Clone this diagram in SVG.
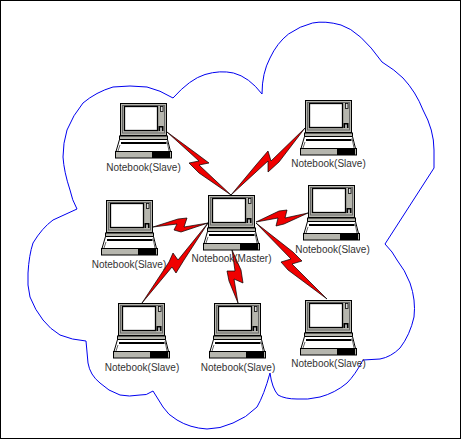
<svg xmlns="http://www.w3.org/2000/svg" xmlns:xlink="http://www.w3.org/1999/xlink" width="461" height="439" viewBox="0 0 461 439">
<style>
text{font-family:"Liberation Sans",Arial,sans-serif;font-size:10px;fill:#333;text-anchor:middle}
.bolt{fill:#f00000;stroke:#000;stroke-width:0.7;stroke-linejoin:miter}
.cloud{fill:none;stroke:#0000f0;stroke-width:1}
.g{fill:#b6b6ae;stroke:#000;stroke-width:1}
.w{fill:#fff;stroke:#000;stroke-width:1}
.k{fill:#000}
</style>
<defs>
<g id="laptop">
<rect class="g" x="0.5" y="0.5" width="46" height="32" stroke-width="1.4"/>
<rect class="g" x="2.5" y="2.5" width="42" height="27.5" style="stroke:#666"/>
<rect class="w" x="4.5" y="3.5" width="33" height="24" style="stroke-width:1.3"/>
<rect x="40.5" y="3.5" width="2.5" height="5" fill="#ddd" stroke="#000" stroke-width="0.8"/>
<rect class="k" x="38.5" y="23" width="5" height="5"/>
<rect x="40" y="24.5" width="2" height="3.5" fill="#aaa"/>
<rect class="g" x="-0.5" y="33" width="48" height="3.5"/>
<path class="w" d="M-0.5,36.5H47.5L50.5,48.5H-4Z"/>
<path d="M0,42L-2,48M47,38L49,48" stroke="#666" fill="none"/>
<rect class="k" x="1" y="39" width="45.500" height="2"/>
<rect class="g" x="-4.500" y="48.500" width="56" height="6.500"/>
<rect class="k" x="32" y="49" width="18" height="6"/>
</g>
</defs>
<rect x="0.500" y="0.500" width="460" height="438" fill="#fff" stroke="#000"/>
<path class="cloud" d="M173,98Q190,79 205,74.500Q220,70 233.500,73Q249,77 262,94Q262,73 270,58Q277,43 288.500,34Q300,26 312.500,23Q325,20.500 341,25Q360,31 382,62Q395,70 403,78Q416,92 423,110Q434,130 434,150L434,168L385,244Q393,252 397,260Q405,270 410,283Q416,300 414,317Q410,335 400,348Q391,357 380,359L363,360Q355,375 347,383Q335,393 320,397Q307,400 297,399Q285,399 278,395Q272,388 270,373Q264,395 257,407Q246,418 233,423Q220,429 207,429Q190,428 177,420Q168,415 163,407L153,391Q146,396 140,395Q129,397 120,395Q108,391 100,383Q90,375 88,363L86,341Q72,340 60,335Q50,329 43,320Q35,310 30,297Q27,285 28,273Q29,255 33,243Q42,228 53,220L77,209Q72,200 70,190Q64,172 63,157Q63,143 67,130Q73,115 83,103Q96,92 113,87Q130,85 147,87Q160,90 173,98Z"/>
<g id="connectors">
<polygon class="bolt" points="167,132 197,154 209,163 199,165 231,195 199,173 189,163 199,161"/>
<polygon class="bolt" points="305,128 279,162 268,172 268,161 231,195 256,165 268,151 271,161"/>
<polygon class="bolt" points="153,227 178,219 187,218 184,227 208,223 181,232 174,230 177,224"/>
<polygon class="bolt" points="256,222 279,211 287,210 285,218 308,213 284,224 276,226 278,218"/>
<polygon class="bolt" points="256,223 293,252 302,261 292,264 327,299 288,270 281,262 291,259"/>
<polygon class="bolt" points="142,303 169,262 173,253 178,260 208,223 184,260 176,273 172,267"/>
<polygon class="bolt" points="232,250 241,270 243,283 234,279 238,303 229,281 227,271 235,271"/>
</g>
<g id="node-slave-top-left"><use xlink:href="#laptop" href="#laptop" x="120" y="103"/><text x="143.500" y="171">Notebook(Slave)</text></g>
<g id="node-slave-top-right"><use xlink:href="#laptop" href="#laptop" x="305" y="100"/><text x="328.500" y="167">Notebook(Slave)</text></g>
<g id="node-slave-right"><use xlink:href="#laptop" href="#laptop" x="308" y="185"/><text x="332.500" y="253">Notebook(Slave)</text></g>
<g id="node-master"><use xlink:href="#laptop" href="#laptop" x="208" y="195"/><text x="231.500" y="262">Notebook(Master)</text></g>
<g id="node-slave-left"><use xlink:href="#laptop" href="#laptop" x="106" y="200"/><text x="129" y="268">Notebook(Slave)</text></g>
<g id="node-slave-bottom-left"><use xlink:href="#laptop" href="#laptop" x="118" y="303"/><text x="142" y="371">Notebook(Slave)</text></g>
<g id="node-slave-bottom-middle"><use xlink:href="#laptop" href="#laptop" x="214" y="303"/><text x="238" y="371">Notebook(Slave)</text></g>
<g id="node-slave-bottom-right"><use xlink:href="#laptop" href="#laptop" x="305" y="300"/><text x="328.500" y="367">Notebook(Slave)</text></g>
</svg>
